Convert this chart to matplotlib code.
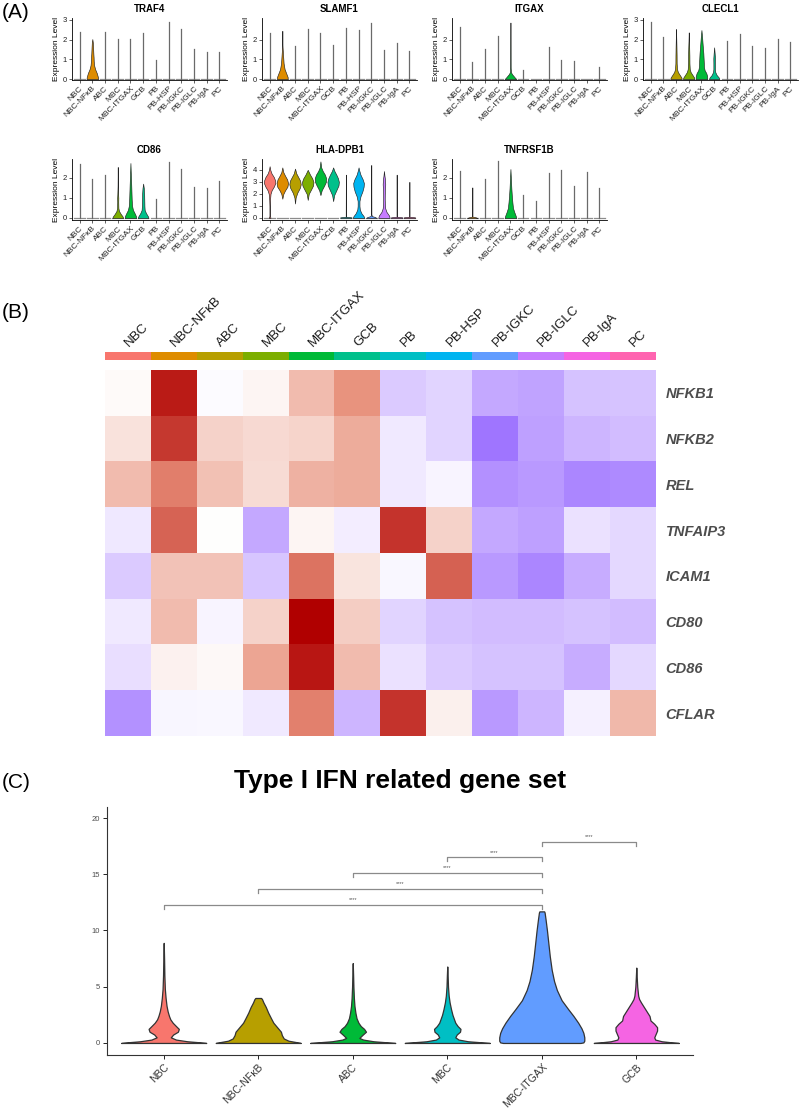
import numpy as np
import matplotlib
matplotlib.use('Agg')
import matplotlib.pyplot as plt
from matplotlib.colors import LinearSegmentedColormap, ListedColormap

plt.rcParams['font.family'] = ['Liberation Sans', 'DejaVu Sans']

W, H = 800, 1109

groups = ['NBC', 'NBC-NFκB', 'ABC', 'MBC', 'MBC-ITGAX', 'GCB', 'PB', 'PB-HSP',
          'PB-IGKC', 'PB-IGLC', 'PB-IgA', 'PC']
group_colors = ['#F8766D', '#DE8C00', '#B79F00', '#7CAE00', '#00BA38', '#00C08B',
                '#00BFC4', '#00B4F0', '#619CFF', '#C77CFF', '#F564E3', '#FF64B0']

# ---- panel A: max expression per group (thin violins) ----
genes_a = ['TRAF4', 'SLAMF1', 'ITGAX', 'CLECL1', 'CD86', 'HLA-DPB1', 'TNFRSF1B']
traf4_max = [2.4, 2.03, 2.39, 2.03, 2.03, 2.32, 0.97, 2.88, 2.54, 1.5, 1.39, 1.39]
slamf1_max = [2.34, 2.45, 1.69, 2.54, 2.34, 1.73, 2.59, 2.49, 2.85, 1.49, 1.81, 1.44]
itgax_max = [2.64, 0.85, 1.5, 2.17, 2.87, 0.46, 0, 1.62, 0.99, 0.94, 0, 0.63]
clecl1_max = [2.88, 2.12, 2.54, 2.37, 2.49, 1.61, 1.92, 2.29, 1.68, 1.59, 2.02, 1.9]
cd86_max = [2.7, 1.95, 2.17, 2.55, 2.75, 1.72, 0.97, 2.8, 2.45, 1.55, 1.5, 1.83]
hla_max = [4.3, 4.2, 4.1, 4.0, 4.7, 4.2, 3.6, 4.2, 4.4, 3.9, 3.6, 3.0]
tnfrsf1b_max = [2.33, 1.53, 1.95, 2.83, 2.45, 1.17, 0.87, 2.25, 2.38, 1.58, 2.3, 1.5]

# violin outlines: group -> (levels, half widths)
traf4_vln = {1: ([0, 0.1, 0.3, 0.5, 0.7, 0.9, 1.1, 1.3, 1.6, 1.85, 2.03],
                 [0.45, 0.44, 0.35, 0.22, 0.14, 0.11, 0.1, 0.08, 0.06, 0.04, 0])}
slamf1_vln = {1: ([0, 0.1, 0.3, 0.5, 0.8, 1.1, 1.4, 1.6, 1.8, 2.45],
                  [0.42, 0.42, 0.3, 0.18, 0.1, 0.07, 0.04, 0.02, 0.008, 0])}
itgax_vln = {4: ([0, 0.05, 0.15, 0.25, 0.35, 0.6, 1.0, 2.87],
                 [0.45, 0.38, 0.25, 0.12, 0.04, 0.015, 0.01, 0])}
clecl1_vln = {
    2: ([0, 0.08, 0.2, 0.35, 0.5, 0.8, 1.2, 1.6, 2.0, 2.54],
        [0.45, 0.42, 0.3, 0.15, 0.08, 0.05, 0.045, 0.035, 0.02, 0]),
    3: ([0, 0.08, 0.2, 0.35, 0.5, 0.8, 1.2, 1.6, 2.0, 2.37],
        [0.45, 0.42, 0.3, 0.15, 0.08, 0.055, 0.05, 0.035, 0.015, 0]),
    4: ([0, 0.15, 0.3, 0.45, 0.6, 0.9, 1.3, 1.7, 2.1, 2.49],
        [0.45, 0.45, 0.38, 0.25, 0.2, 0.18, 0.15, 0.1, 0.055, 0]),
    5: ([0, 0.08, 0.2, 0.35, 0.5, 0.8, 1.05, 1.3, 1.61],
        [0.4, 0.36, 0.2, 0.09, 0.06, 0.06, 0.065, 0.04, 0]),
}
cd86_vln = {
    3: ([0, 0.08, 0.2, 0.35, 0.5, 0.8, 1.0, 1.2, 1.6, 2.55],
        [0.42, 0.38, 0.24, 0.1, 0.05, 0.04, 0.045, 0.03, 0.012, 0]),
    4: ([0, 0.1, 0.25, 0.4, 0.6, 0.9, 1.3, 1.7, 2.1, 2.75],
        [0.45, 0.43, 0.32, 0.2, 0.13, 0.1, 0.08, 0.06, 0.035, 0]),
    5: ([0, 0.08, 0.25, 0.4, 0.6, 0.9, 1.2, 1.5, 1.72],
        [0.42, 0.38, 0.22, 0.12, 0.1, 0.09, 0.08, 0.05, 0]),
}
hla_vln = {
    0: ([0, 0.05, 0.15, 0.5, 1.0, 1.5, 2.0, 2.3, 2.6, 2.9, 3.1, 3.4, 3.7, 4.0, 4.3],
        [0.06, 0.06, 0.015, 0.012, 0.015, 0.03, 0.07, 0.16, 0.33, 0.45, 0.44, 0.33, 0.15, 0.05, 0]),
    1: ([1.6, 2.0, 2.3, 2.6, 2.9, 3.2, 3.5, 3.8, 4.2],
        [0, 0.08, 0.22, 0.4, 0.45, 0.38, 0.22, 0.08, 0]),
    2: ([1.2, 1.7, 2.1, 2.5, 2.8, 3.1, 3.4, 3.7, 4.1],
        [0, 0.05, 0.18, 0.38, 0.45, 0.4, 0.25, 0.1, 0]),
    3: ([1.5, 2.0, 2.4, 2.7, 3.0, 3.3, 3.6, 4.0],
        [0, 0.08, 0.28, 0.42, 0.45, 0.35, 0.18, 0]),
    4: ([1.9, 2.3, 2.7, 3.0, 3.3, 3.6, 3.9, 4.2, 4.7],
        [0, 0.1, 0.3, 0.43, 0.45, 0.35, 0.18, 0.06, 0]),
    5: ([1.4, 1.9, 2.3, 2.7, 3.0, 3.3, 3.6, 3.9, 4.2],
        [0, 0.08, 0.25, 0.42, 0.45, 0.38, 0.25, 0.1, 0]),
    6: ([0, 0.05, 0.1, 3.6], [0.45, 0.45, 0.01, 0]),
    7: ([0, 0.15, 0.4, 0.7, 1.0, 1.4, 1.8, 2.2, 2.6, 2.9, 3.2, 3.6, 4.0, 4.2],
        [0.45, 0.4, 0.22, 0.1, 0.07, 0.07, 0.15, 0.3, 0.4, 0.42, 0.33, 0.15, 0.04, 0]),
    8: ([0, 0.08, 0.15, 0.3, 4.4], [0.4, 0.3, 0.06, 0.01, 0]),
    9: ([0, 0.2, 0.5, 0.8, 1.2, 1.6, 2.0, 2.4, 2.8, 3.2, 3.5, 3.9],
        [0.45, 0.4, 0.2, 0.1, 0.07, 0.06, 0.065, 0.08, 0.1, 0.08, 0.04, 0]),
    10: ([0, 0.05, 0.1, 3.6], [0.45, 0.45, 0.01, 0]),
    11: ([0, 0.05, 0.1, 3.0], [0.45, 0.45, 0.01, 0]),
}
tnfrsf1b_vln = {
    1: ([0, 0.03, 0.07, 1.53], [0.4, 0.3, 0.01, 0]),
    4: ([0, 0.1, 0.3, 0.5, 0.8, 1.1, 1.5, 1.9, 2.45],
        [0.45, 0.42, 0.3, 0.2, 0.15, 0.11, 0.07, 0.04, 0]),
}

a_max = [traf4_max, slamf1_max, itgax_max, clecl1_max, cd86_max, hla_max, tnfrsf1b_max]
a_vln = [traf4_vln, slamf1_vln, itgax_vln, clecl1_vln, cd86_vln, hla_vln, tnfrsf1b_vln]
a_yticks = [[0, 1, 2, 3], [0, 1, 2], [0, 1, 2], [0, 1, 2, 3], [0, 1, 2], [0, 1, 2, 3, 4], [0, 1, 2]]
a_ylim = [(-0.05, 3.1), (-0.05, 3.1), (-0.05, 3.1), (-0.05, 3.1),
          (-0.1, 2.95), (-0.17, 4.9), (-0.1, 2.95)]

# ---- panel B: scaled mean expression ----
heat_rows = ['NFKB1', 'NFKB2', 'REL', 'TNFAIP3', 'ICAM1', 'CD80', 'CD86', 'CFLAR']
nfkb1 = [0.02, 0.9, -0.02, 0.04, 0.3, 0.48, -0.3, -0.25, -0.5, -0.53, -0.35, -0.34]
nfkb2 = [0.13, 0.8, 0.2, 0.17, 0.19, 0.37, -0.12, -0.25, -0.85, -0.55, -0.42, -0.38]
rel = [0.3, 0.56, 0.28, 0.16, 0.35, 0.37, -0.12, -0.06, -0.66, -0.6, -0.73, -0.7]
tnfaip3 = [-0.13, 0.65, 0.0, -0.5, 0.04, -0.1, 0.82, 0.2, -0.5, -0.55, -0.17, -0.22]
icam1 = [-0.3, 0.27, 0.27, -0.33, 0.6, 0.12, -0.04, 0.66, -0.6, -0.73, -0.47, -0.22]
cd80 = [-0.12, 0.3, -0.06, 0.2, 1.0, 0.22, -0.25, -0.35, -0.38, -0.38, -0.35, -0.38]
cd86_h = [-0.18, 0.06, 0.03, 0.4, 0.92, 0.3, -0.17, -0.3, -0.35, -0.35, -0.47, -0.22]
cflar = [-0.65, -0.05, -0.04, -0.12, 0.55, -0.42, 0.82, 0.07, -0.6, -0.42, -0.08, 0.32]

# ---- panel C: Type I IFN score violins ----
c_groups = ['NBC', 'NBC-NFκB', 'ABC', 'MBC', 'MBC-ITGAX', 'GCB']
c_colors = ['#F8766D', '#B79F00', '#00BA38', '#00BFC4', '#619CFF', '#F564E3']
c_levels = [
    [0, 0.06, 0.15, 0.3, 0.5, 0.75, 1.0, 1.25, 1.5, 1.8, 2.1, 2.4, 2.8, 3.3, 4.0, 4.8, 6.0, 7.5, 8.9],
    [0, 0.08, 0.2, 0.4, 0.7, 1.0, 1.2, 1.5, 1.8, 2.2, 2.7, 3.2, 3.6, 3.9, 4.0, 4.0],
    [0, 0.06, 0.15, 0.3, 0.45, 0.7, 1.0, 1.25, 1.5, 1.8, 2.2, 2.7, 3.3, 4.0, 5.0, 6.0, 7.1],
    [0, 0.06, 0.15, 0.3, 0.5, 0.75, 1.0, 1.25, 1.5, 1.8, 2.1, 2.5, 3.0, 3.6, 4.2, 5.0, 6.0, 6.8],
    [0, 0.05, 0.2, 0.5, 0.9, 1.3, 1.8, 2.4, 3.0, 3.8, 4.7, 5.5, 6.5, 7.7, 9.0, 10.0, 11.0, 11.6, 11.7, 11.7],
    [0, 0.06, 0.15, 0.3, 0.5, 0.8, 1.1, 1.4, 1.7, 2.0, 2.4, 2.8, 3.2, 3.6, 3.9, 4.2, 5.0, 5.8, 6.7],
]
c_halfw = [
    [0.45, 0.38, 0.25, 0.13, 0.075, 0.1, 0.15, 0.16, 0.13, 0.095, 0.07, 0.056, 0.042, 0.03, 0.02, 0.012, 0.007, 0.004, 0],
    [0.45, 0.4, 0.32, 0.27, 0.25, 0.24, 0.22, 0.19, 0.16, 0.135, 0.105, 0.08, 0.055, 0.04, 0.03, 0],
    [0.45, 0.36, 0.22, 0.11, 0.07, 0.1, 0.14, 0.12, 0.085, 0.06, 0.04, 0.028, 0.018, 0.012, 0.007, 0.004, 0],
    [0.45, 0.36, 0.22, 0.12, 0.085, 0.1, 0.135, 0.14, 0.11, 0.085, 0.072, 0.055, 0.04, 0.025, 0.015, 0.008, 0.004, 0],
    [0.41, 0.44, 0.45, 0.45, 0.44, 0.42, 0.385, 0.335, 0.28, 0.21, 0.16, 0.13, 0.105, 0.085, 0.068, 0.055, 0.04, 0.03, 0.025, 0],
    [0.45, 0.37, 0.27, 0.2, 0.19, 0.205, 0.22, 0.22, 0.19, 0.15, 0.14, 0.11, 0.08, 0.05, 0.03, 0.02, 0.01, 0.005, 0],
]
# comparisons (group a, group b, bracket height)
comp_a = [0, 1, 2, 3, 4]
comp_b = [4, 4, 4, 4, 5]
comp_y = [12.3, 13.7, 15.1, 16.5, 17.9]


fig = plt.figure(figsize=(W / 100, H / 100), dpi=100)


def px_axes(left, top, width, height):
    return fig.add_axes([left / W, 1 - (top + height) / H, width / W, height / H])


# ---------------- panel A ----------------
a_boxes = [(72, 18), (262, 18), (452, 18), (643, 18), (72, 159), (262, 159), (452, 159)]
for k, gene in enumerate(genes_a):
    left, top = a_boxes[k]
    ax = px_axes(left, top, 155, 62 if top < 100 else 61)
    for i, m in enumerate(a_max[k]):
        if m > 0 and i not in a_vln[k]:
            ax.plot([i, i], [0, m], color='#6a6a6a', lw=0.9, zorder=2)
        ax.plot([i - 0.42, i + 0.42], [0, 0], color='#8c8c8c', lw=0.9, zorder=1)
    for i, (ys, hw) in a_vln[k].items():
        ys = np.array(ys)
        hw = np.array(hw)
        ax.fill_betweenx(ys, i - hw, i + hw, facecolor=group_colors[i],
                         edgecolor='#222222', lw=0.45, zorder=3)
    ax.set_xlim(-0.6, 11.6)
    ax.set_ylim(*a_ylim[k])
    ax.set_yticks(a_yticks[k])
    ax.set_xticks(range(12))
    ax.set_xticklabels(groups, rotation=45, ha='right', rotation_mode='anchor', fontsize=6)
    ax.tick_params(axis='both', labelsize=5.5, length=2, width=0.5, pad=1.5, colors='#222222')
    ax.tick_params(axis='x', labelsize=6)
    for s in ['top', 'right']:
        ax.spines[s].set_visible(False)
    for s in ['left', 'bottom']:
        ax.spines[s].set_linewidth(0.6)
    ax.set_ylabel('Expression Level', fontsize=6, labelpad=2)
    ax.set_title(gene, fontsize=7, fontweight='bold', pad=4)

fig.text(2 / W, 1 - 13 / H, '(A)', fontsize=15, va='center', ha='left')

# ---------------- panel B ----------------
heat = np.array([nfkb1, nfkb2, rel, tnfaip3, icam1, cd80, cd86_h, cflar])
cmap = LinearSegmentedColormap.from_list(
    'pw', [(0.0, '#9060FF'), (0.25, '#C4A8FF'), (0.5, '#FFFFFF'),
           (0.75, '#E8907A'), (1.0, '#B00000')])
axh = px_axes(105, 370, 551, 366)
axh.imshow(heat, cmap=cmap, vmin=-1, vmax=1, aspect='auto', interpolation='nearest')
axh.set_xticks([])
axh.yaxis.tick_right()
axh.set_yticks(range(len(heat_rows)))
axh.set_yticklabels(heat_rows, fontsize=10.5, fontweight='bold', style='italic', color='#4D4D4D')
axh.tick_params(axis='y', length=0, pad=7)
for s in axh.spines.values():
    s.set_visible(False)

axs = px_axes(105, 352, 551, 8)
axs.imshow(np.arange(12)[None, :], cmap=ListedColormap(group_colors), aspect='auto',
           interpolation='nearest')
axs.set_xticks([])
axs.set_yticks([])
for s in axs.spines.values():
    s.set_visible(False)
for i, g in enumerate(groups):
    axs.text(i + 0.07, 1.4, g, transform=axs.get_xaxis_transform(), rotation=45,
             ha='left', va='bottom', rotation_mode='anchor', fontsize=9.5, color='#1a1a1a')

fig.text(2 / W, 1 - 313 / H, '(B)', fontsize=15, va='center', ha='left')

# ---------------- panel C ----------------
axc = px_axes(107, 807, 586, 248)
for i in range(len(c_groups)):
    ys = np.array(c_levels[i])
    hw = np.array(c_halfw[i])
    axc.fill_betweenx(ys, i - hw, i + hw, facecolor=c_colors[i], edgecolor='#333333',
                      lw=0.9, zorder=3)
for a, b, y in zip(comp_a, comp_b, comp_y):
    axc.plot([a, a, b, b], [y - 0.35, y, y, y - 0.35], color='#8a8a8a', lw=0.9)
    axc.text((a + b) / 2, y + 0.25, '****', ha='center', va='bottom', fontsize=4,
             color='#555555')
axc.set_xlim(-0.6, 5.6)
axc.set_ylim(-1.07, 20.98)
axc.set_yticks([0, 5, 10, 15, 20])
axc.set_xticks(range(len(c_groups)))
axc.set_xticklabels(c_groups, rotation=45, ha='right', rotation_mode='anchor', fontsize=7.5,
                    color='#333333')
axc.tick_params(axis='y', labelsize=5.5, labelcolor='#4D4D4D', length=3, width=0.6, pad=2)
axc.tick_params(axis='x', length=3, width=0.6, pad=2)
for s in ['top', 'right']:
    axc.spines[s].set_visible(False)
for s in ['left', 'bottom']:
    axc.spines[s].set_linewidth(0.8)
    axc.spines[s].set_color('#333333')

fig.text(400 / W, 1 - 781 / H, 'Type I IFN related gene set', fontsize=19,
         fontweight='bold', ha='center', va='center')
fig.text(2 / W, 1 - 783 / H, '(C)', fontsize=15, va='center', ha='left')

fig.savefig('out.png', dpi=100)
